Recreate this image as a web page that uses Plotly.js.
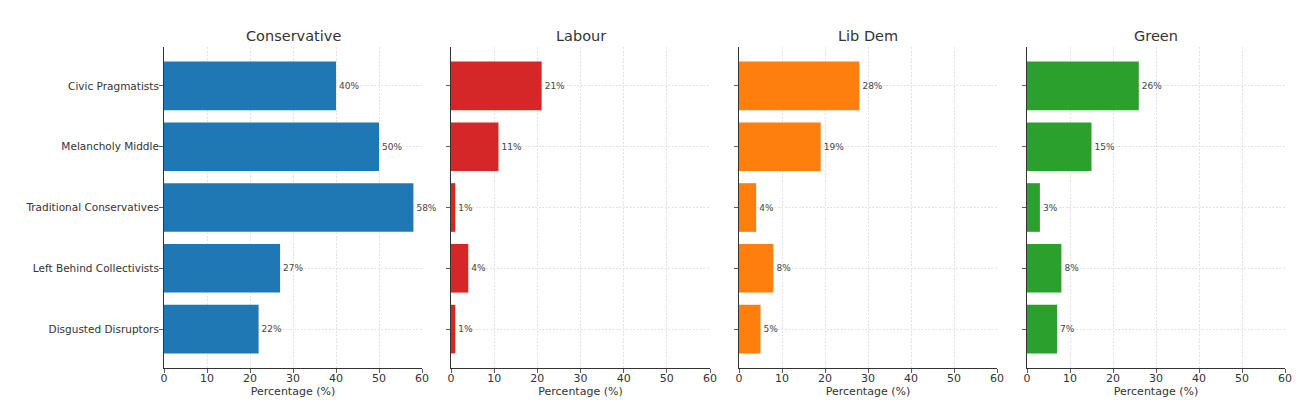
<!DOCTYPE html>
<html><head><meta charset="utf-8">
<script src="https://cdn.plot.ly/plotly-3.0.1.min.js"></script>
<style>html,body{margin:0;padding:0;background:#fff}#chart{width:1306px;height:406px}</style>
</head><body><div id="chart"></div>
<script>
const segments = ["Civic Pragmatists","Melancholy Middle","Traditional Conservatives","Left Behind Collectivists","Disgusted Disruptors"];
const parties = ["Conservative","Labour","Lib Dem","Green"];
const conservative = [40,50,58,27,22];
const labour = [21,11,1,4,1];
const libdem = [28,19,4,8,5];
const green = [26,15,3,8,7];
const colors = ["#1f77b4","#d62728","#ff7f0e","#2ca02c"];
const xTicks = [0,10,20,30,40,50,60];

const series = [conservative, labour, libdem, green];
const W = 1306, H = 406;
const xd = [[164,422],[451,710],[739,997],[1027,1285]];
const yDom = [1-368/H, 1-47/H];
const font = "DejaVu Sans, sans-serif";

const data = [], annotations = [];
const layout = {
  width: W, height: H, margin:{l:0,r:0,t:0,b:0},
  paper_bgcolor:"#fff", plot_bgcolor:"#fff", showlegend:false,
  font:{family:font, color:"#333", size:11}, bargap:0.2
};
series.forEach((vals,i)=>{
  const sfx = i===0 ? "" : String(i+1);
  data.push({
    type:"bar", orientation:"h", x:vals, y:segments,
    xaxis:"x"+sfx, yaxis:"y"+sfx,
    marker:{color:colors[i], line:{color:colors[i], width:0}},
    width:0.8,
    text: vals.map(v=>v+"%"), textposition:"outside", cliponaxis:false,
    textfont:{size:9, color:"#444", family:font},
    hoverinfo:"skip"
  });
  const dom = [xd[i][0]/W, xd[i][1]/W];
  layout["xaxis"+sfx] = {
    domain: dom, anchor:"y"+sfx, range:[0,60], tickvals:xTicks,
    showgrid:true, gridcolor:"#e2e2e2", griddash:"2px,1.5px", gridwidth:1,
    zeroline:false, showline:true, linecolor:"#333", linewidth:1,
    ticks:"outside", ticklen:4, tickcolor:"#333", tickwidth:0.8,
    ticklabelstandoff:-4,
    tickfont:{size:11, color:"#333"},
    title:{text:"Percentage (%)", font:{size:11, color:"#333"}, standoff:0},
    fixedrange:true
  };
  layout["yaxis"+sfx] = {
    domain: yDom, anchor:"x"+sfx, type:"category",
    categoryorder:"array", categoryarray:segments,
    range:[4.64,-0.64],
    showgrid:true, gridcolor:"#e2e2e2", griddash:"2px,1.5px", gridwidth:1,
    zeroline:false, showline:true, linecolor:"#333", linewidth:1,
    ticks:"outside", ticklen:4, tickcolor:"#333", tickwidth:0.8,
    ticklabelstandoff:-2,
    showticklabels: i===0, tickfont:{size:10.5, color:"#333"},
    fixedrange:true
  };
  annotations.push({
    text: parties[i], xref:"paper", yref:"paper",
    x:(dom[0]+dom[1])/2, y:1-36/H, xanchor:"center", yanchor:"middle",
    showarrow:false, font:{size:14.5, color:"#333", family:font}
  });
});
layout.annotations = annotations;
Plotly.newPlot("chart", data, layout, {displayModeBar:false, staticPlot:true});
</script></body></html>
